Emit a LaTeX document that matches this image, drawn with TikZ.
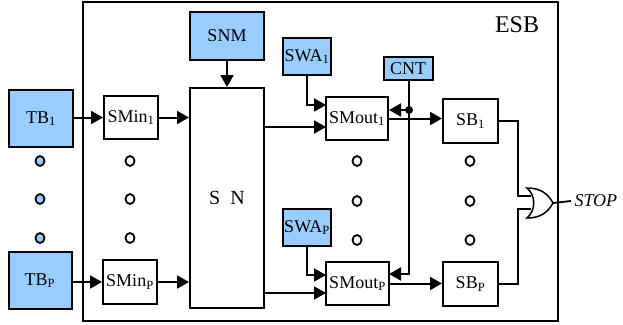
\documentclass[tikz,border=0pt]{standalone}
\usepackage{fontspec}
\setmainfont{Liberation Serif}
\usetikzlibrary{arrows.meta}
\definecolor{lblue}{RGB}{153,204,255}
\begin{document}
\begin{tikzpicture}[x=1pt,y=-1pt,
  box/.style={draw,line width=2pt,inner sep=0pt,font=\fontsize{18}{20}\selectfont},
  bbox/.style={box,fill=lblue},
  dotc/.style={draw,circle,line width=1.8pt,minimum size=9pt,inner sep=0pt,yscale=1.1},
  bdot/.style={dotc,fill=lblue},
  arr/.style={line width=2pt,-{Triangle[length=12pt,width=13pt]}},
  wire/.style={line width=1.8pt}]
\useasboundingbox (0,0) rectangle (623,324);
\node[draw,line width=2pt,minimum width=475pt,minimum height=319pt] (esb) at (320.5,161.5) {};
\node[font=\fontsize{24}{26}\selectfont] (esbl) at (517,25) {ESB};
% left column
\node[bbox,minimum width=64pt,minimum height=57pt] (TB1) at (41,118.5) {TB\textsubscript{1}};
\node[bbox,minimum width=63pt,minimum height=57pt] (TBP) at (40,280.5) {TB\textsubscript{P}};
\node[bdot] (b1) at (40,161) {};
\node[bdot] (b2) at (40,199) {};
\node[bdot] (b3) at (40,238) {};
\node[box,minimum width=54pt,minimum height=43pt] (SMin1) at (131,117.5) {SMin\textsubscript{1}};
\node[box,minimum width=54pt,minimum height=44pt] (SMinP) at (130,282) {SMin\textsubscript{P}};
\node[dotc] (w1) at (130,161) {};
\node[dotc] (w2) at (130,199) {};
\node[dotc] (w3) at (130,238) {};
\node[bbox,minimum width=74pt,minimum height=48pt] (SNM) at (227,36) {SNM};
\node[box,minimum width=74pt,minimum height=220pt,font=\fontsize{20}{22}\selectfont] (SN) at (227,198) {S\hspace{0.5em}N};
\node[bbox,minimum width=48pt,minimum height=37pt] (SWA1) at (307,56.5) {SWA\textsubscript{1}};
\node[bbox,minimum width=48pt,minimum height=37pt] (SWAP) at (307,227.5) {SWA\textsubscript{P}};
\node[box,minimum width=62pt,minimum height=43pt] (SMout1) at (357,118.5) {SMout\textsubscript{1}};
\node[box,minimum width=63pt,minimum height=43pt] (SMoutP) at (357.5,283.5) {SMout\textsubscript{P}};
\node[dotc] (m1) at (357,161) {};
\node[dotc] (m2) at (357,201) {};
\node[dotc] (m3) at (357,240) {};
\node[bbox,minimum width=49pt,minimum height=23pt] (CNT) at (408,68.5) {CNT};
\node[box,minimum width=55pt,minimum height=44pt] (SB1) at (470.5,121) {SB\textsubscript{1}};
\node[box,minimum width=55pt,minimum height=44pt] (SBP) at (470.5,284) {SB\textsubscript{P}};
\node[dotc] (s1) at (470,161) {};
\node[dotc] (s2) at (470,201) {};
\node[dotc] (s3) at (470,240) {};
\node[font=\fontsize{18}{20}\selectfont\itshape,anchor=west] (STOP) at (571,201) {STOP};
% input points
\coordinate (i1a) at (326,105);
\coordinate (i1b) at (326,127);
\coordinate (iPa) at (326,275);
\coordinate (iPb) at (326,293);
\coordinate (jn) at (409,110);
\coordinate (jP) at (409,274);
\coordinate (oP) at (389,274);
% connectors
\draw[arr] (TB1.east |- SMin1.west) -- (SMin1.west);
\draw[arr] (TBP.east |- SMinP.west) -- (SMinP.west);
\draw[arr] (SMin1.east) -- (SMin1.east -| SN.west);
\draw[arr] (SMinP.east) -- (SMinP.east -| SN.west);
\draw[arr] (SNM.south) -- (SN.north);
\draw[arr] (SN.east |- i1b) -- (i1b);
\draw[arr] (SN.east |- iPb) -- (iPb);
\draw[arr] (SWA1.south) |- (i1a);
\draw[arr] (SWAP.south) |- (iPa);
\draw[arr] (SMout1.east) -- (SMout1.east -| SB1.west);
\draw[arr] (SMoutP.east) -- (SMoutP.east -| SBP.west);
\draw[wire] (CNT.south -| jn) -- (jn);
\draw[arr] (jn) -- (jn -| SMout1.east);
\draw[arr] (jn) -- (jP) -- (oP);
\fill (jn) circle (4pt);
% OR gate
\coordinate (g1) at (531,196);
\coordinate (g2) at (531,209);
\coordinate (gout) at (553,203);
\draw[wire,line width=1.5pt] (527,188) .. controls (536,196) and (536,210) .. (527,218)
  .. controls (541,218) and (548,212) .. (gout)
  .. controls (548,194) and (541,188) .. cycle;
\draw[wire] (SB1.east) -- ++(19,0) |- (g1);
\draw[wire] (SBP.east) -- ++(19,0) |- (g2);
\draw[wire] (gout) -- (STOP.west);
\end{tikzpicture}
\end{document}
